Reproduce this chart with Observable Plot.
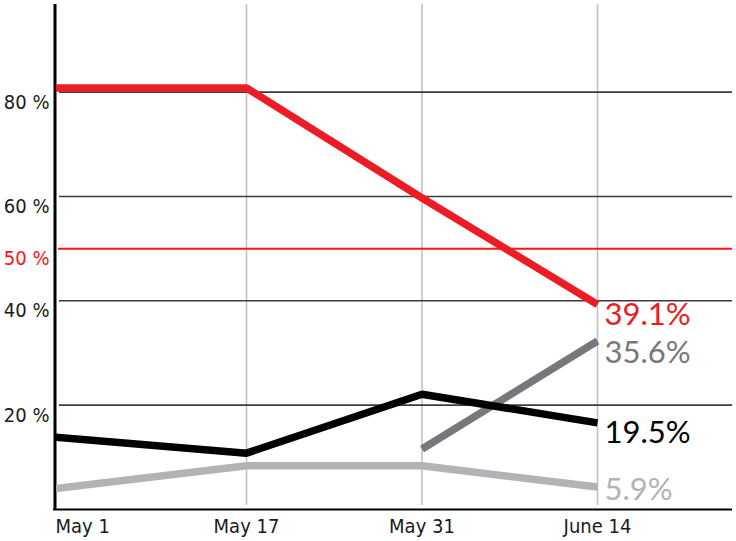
<!DOCTYPE html>
<html>
<head>
<meta charset="utf-8">
<script src="https://cdn.jsdelivr.net/npm/d3@7"></script>
<script src="https://cdn.jsdelivr.net/npm/@observablehq/plot@0.6"></script>
<style>
  html, body { margin: 0; padding: 0; background: #fff; }
</style>
</head>
<body>
<div id="chart"></div>
<script>
// Poll dates (day number counted from May 1 = 1)
const days = [1, 17, 31, 45];
const dayLabels = ["May 1", "May 17", "May 31", "June 14"];

// Series values (percent)
const seriesNames = ["Series 1", "Series 2", "Series 3", "Series 4"];
const redValues = [80.8, 80.8, 59.7, 39.3];
const blackValues = [14.0, 10.8, 22.1, 16.6];
const lightGrayValues = [3.8, 8.4, 8.4, 4.3];
const darkGrayValues = [null, null, 11.6, 32.3];

// End labels as printed in the chart
const endLabels = ["39.1%", "19.5%", "5.9%", "35.6%"];

// Y gridlines / tick labels
const yTicks = [20, 40, 60, 80];
const majorityLine = 50;

// scale extents
const xDomain = [1.843, 55.77];
const yDomain = [0, 96.8];

const colors = ["#ed1c24", "#000000", "#b1b3b6", "#77787b"];
const labelDy = [11, 10, 3, 12];

const valueSets = [redValues, blackValues, lightGrayValues, darkGrayValues];

const tickFont = "'Liberation Sans Narrow', 'DejaVu Sans Condensed', 'Arial Narrow', sans-serif";
const labelFont = "Lato, 'Open Sans', sans-serif";

const marks = [
  // vertical gridlines
  Plot.ruleX(days.slice(1), {stroke: "#bfbfbf", strokeWidth: 1.5, insetBottom: 4}),
  // horizontal gridlines
  Plot.ruleY(yTicks, {stroke: "#3c3c3c", strokeWidth: 1.6, insetLeft: 3}),
  // 50% line
  Plot.ruleY([majorityLine], {stroke: "#ff1414", strokeWidth: 2, insetLeft: 2}),
  // axes lines
  Plot.ruleY([0], {stroke: "#000", strokeWidth: 2.2, insetLeft: -3}),
  Plot.ruleX([xDomain[0]], {stroke: "#000", strokeWidth: 3, dx: -1.5, insetBottom: -1}),
  // y tick labels
  Plot.text(yTicks, {
    y: d => d, frameAnchor: "left", text: d => `${d} %`,
    textAnchor: "end", dx: -7, dy: 10, fontSize: 20, fontFamily: tickFont, fill: "#1a1a1a"
  }),
  Plot.text([majorityLine], {
    y: d => d, frameAnchor: "left", text: d => `${d} %`,
    textAnchor: "end", dx: -7, dy: 10, fontSize: 20, fontFamily: tickFont, fill: "#ff1414"
  }),
  // x labels
  Plot.text([1, 2, 3], {
    x: i => days[i], frameAnchor: "bottom", text: i => dayLabels[i],
    lineAnchor: "top", dy: 9, fontSize: 20, fontFamily: tickFont, fill: "#1a1a1a"
  }),
  Plot.text([0], {
    frameAnchor: "bottom-left", text: i => dayLabels[i], textAnchor: "start",
    lineAnchor: "top", dy: 9, dx: -1, fontSize: 20, fontFamily: tickFont, fill: "#1a1a1a"
  })
];

// series lines, drawn light to dark in the reference's stacking order
[2, 3, 1, 0].forEach(s => {
  const vals = valueSets[s];
  const pts = days.map((d, i) => ({day: d, value: vals[i], series: seriesNames[s]})).filter(p => p.value != null);
  marks.push(Plot.line(pts, {
    x: "day", y: "value", stroke: colors[s],
    strokeWidth: 7.5, strokeLinecap: "butt", strokeLinejoin: "miter", clip: true
  }));
});

// end labels
seriesNames.forEach((name, s) => {
  const vals = valueSets[s];
  const last = vals.length - 1;
  marks.push(Plot.text([last], {
    x: i => days[i], y: i => vals[i], text: () => endLabels[s],
    textAnchor: "start", dx: 7, dy: labelDy[s], fontSize: 31, fontWeight: 400,
    fontFamily: labelFont, fill: colors[s]
  }));
});

const chart = Plot.plot({
  width: 736,
  height: 541,
  marginLeft: 56,
  marginRight: 4,
  marginTop: 4,
  marginBottom: 32,
  x: {type: "linear", domain: xDomain, axis: null},
  y: {domain: yDomain, axis: null},
  style: {background: "#fff", overflow: "visible"},
  marks
});
document.getElementById("chart").appendChild(chart);
</script>
</body>
</html>
